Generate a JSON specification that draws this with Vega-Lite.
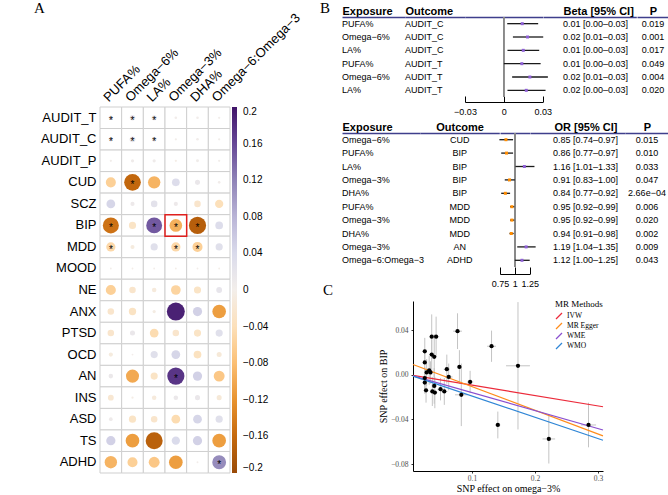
{
"$schema": "https://vega.github.io/schema/vega-lite/v6.json",
"background": "white",
"padding": {"left": 34, "top": 1, "right": 0, "bottom": 0},
"bounds": "full",
"spacing": 17,
"resolve": {"scale": {"color": "independent", "size": "independent"}, "legend": {"color": "independent"}},
"hconcat": [
 {"vconcat": [
   {"width": 130, "height": 89.5, "data": {"values": []}, "mark": "point",
    "title": {"text": "A", "dx": -66, "offset": 1}},
   {"width": 130, "height": 366,
    "data": {"values": [
{"row":"AUDIT_T","col":"PUFA%","r":0.012,"sig":1},{"row":"AUDIT_T","col":"Omega−6%","r":0.018,"sig":1},{"row":"AUDIT_T","col":"LA%","r":0.016,"sig":1},{"row":"AUDIT_T","col":"Omega−3%","r":0.004},{"row":"AUDIT_T","col":"DHA%","r":0.004},{"row":"AUDIT_T","col":"Omega−6:Omega−3","r":0.003},
{"row":"AUDIT_C","col":"PUFA%","r":0.012,"sig":1},{"row":"AUDIT_C","col":"Omega−6%","r":0.02,"sig":1},{"row":"AUDIT_C","col":"LA%","r":0.014,"sig":1},{"row":"AUDIT_C","col":"Omega−3%","r":0.003},{"row":"AUDIT_C","col":"DHA%","r":0.004},{"row":"AUDIT_C","col":"Omega−6:Omega−3","r":0.003},
{"row":"AUDIT_P","col":"PUFA%","r":0.003},{"row":"AUDIT_P","col":"Omega−6%","r":0.006},{"row":"AUDIT_P","col":"LA%","r":0.006},{"row":"AUDIT_P","col":"Omega−3%","r":-0.003},{"row":"AUDIT_P","col":"DHA%","r":0.005},{"row":"AUDIT_P","col":"Omega−6:Omega−3","r":0.003},
{"row":"CUD","col":"PUFA%","r":-0.06},{"row":"CUD","col":"Omega−6%","r":-0.163,"sig":1},{"row":"CUD","col":"LA%","r":-0.09},{"row":"CUD","col":"Omega−3%","r":0.035},{"row":"CUD","col":"DHA%","r":0.015},{"row":"CUD","col":"Omega−6:Omega−3","r":0.004},
{"row":"SCZ","col":"PUFA%","r":0.045},{"row":"SCZ","col":"Omega−6%","r":0.01},{"row":"SCZ","col":"LA%","r":0.025},{"row":"SCZ","col":"Omega−3%","r":0.01},{"row":"SCZ","col":"DHA%","r":-0.025},{"row":"SCZ","col":"Omega−6:Omega−3","r":-0.04},
{"row":"BIP","col":"PUFA%","r":-0.151,"sig":1},{"row":"BIP","col":"Omega−6%","r":-0.03},{"row":"BIP","col":"LA%","r":0.148,"sig":1},{"row":"BIP","col":"Omega−3%","r":-0.094,"sig":1},{"row":"BIP","col":"DHA%","r":-0.174,"sig":1},{"row":"BIP","col":"Omega−6:Omega−3","r":0.035},
{"row":"MDD","col":"PUFA%","r":-0.05,"sig":1},{"row":"MDD","col":"Omega−6%","r":-0.01},{"row":"MDD","col":"LA%","r":0.03},{"row":"MDD","col":"Omega−3%","r":-0.05,"sig":1},{"row":"MDD","col":"DHA%","r":-0.06,"sig":1},{"row":"MDD","col":"Omega−6:Omega−3","r":0.03},
{"row":"MOOD","col":"PUFA%","r":0.002},{"row":"MOOD","col":"Omega−6%","r":-0.002},{"row":"MOOD","col":"LA%","r":0.002},{"row":"MOOD","col":"Omega−3%","r":-0.002},{"row":"MOOD","col":"DHA%","r":0.002},{"row":"MOOD","col":"Omega−6:Omega−3","r":-0.002},
{"row":"NE","col":"PUFA%","r":-0.06},{"row":"NE","col":"Omega−6%","r":-0.025},{"row":"NE","col":"LA%","r":-0.012},{"row":"NE","col":"Omega−3%","r":-0.055},{"row":"NE","col":"DHA%","r":-0.03},{"row":"NE","col":"Omega−6:Omega−3","r":0.02},
{"row":"ANX","col":"PUFA%","r":-0.025},{"row":"ANX","col":"Omega−6%","r":-0.032},{"row":"ANX","col":"LA%","r":-0.006},{"row":"ANX","col":"Omega−3%","r":0.19},{"row":"ANX","col":"DHA%","r":0.05},{"row":"ANX","col":"Omega−6:Omega−3","r":-0.11},
{"row":"PTSD","col":"PUFA%","r":-0.025},{"row":"PTSD","col":"Omega−6%","r":0.015},{"row":"PTSD","col":"LA%","r":-0.045},{"row":"PTSD","col":"Omega−3%","r":-0.025},{"row":"PTSD","col":"DHA%","r":-0.03},{"row":"PTSD","col":"Omega−6:Omega−3","r":0.03},
{"row":"OCD","col":"PUFA%","r":-0.01},{"row":"OCD","col":"Omega−6%","r":0.002},{"row":"OCD","col":"LA%","r":0.03},{"row":"OCD","col":"Omega−3%","r":0.045},{"row":"OCD","col":"DHA%","r":-0.035},{"row":"OCD","col":"Omega−6:Omega−3","r":-0.015},
{"row":"AN","col":"PUFA%","r":0.012},{"row":"AN","col":"Omega−6%","r":-0.1},{"row":"AN","col":"LA%","r":-0.03},{"row":"AN","col":"Omega−3%","r":0.174,"sig":1},{"row":"AN","col":"DHA%","r":0.05},{"row":"AN","col":"Omega−6:Omega−3","r":-0.07},
{"row":"INS","col":"PUFA%","r":-0.02},{"row":"INS","col":"Omega−6%","r":-0.003},{"row":"INS","col":"LA%","r":-0.012},{"row":"INS","col":"Omega−3%","r":0.012},{"row":"INS","col":"DHA%","r":0.015},{"row":"INS","col":"Omega−6:Omega−3","r":-0.015},
{"row":"ASD","col":"PUFA%","r":0.008},{"row":"ASD","col":"Omega−6%","r":-0.03},{"row":"ASD","col":"LA%","r":-0.025},{"row":"ASD","col":"Omega−3%","r":-0.045},{"row":"ASD","col":"DHA%","r":0.045},{"row":"ASD","col":"Omega−6:Omega−3","r":0.03},
{"row":"TS","col":"PUFA%","r":0.05},{"row":"TS","col":"Omega−6%","r":-0.11},{"row":"TS","col":"LA%","r":-0.17},{"row":"TS","col":"Omega−3%","r":0.04},{"row":"TS","col":"DHA%","r":0.05},{"row":"TS","col":"Omega−6:Omega−3","r":-0.11},
{"row":"ADHD","col":"PUFA%","r":-0.09},{"row":"ADHD","col":"Omega−6%","r":-0.06},{"row":"ADHD","col":"LA%","r":-0.07},{"row":"ADHD","col":"Omega−3%","r":-0.11},{"row":"ADHD","col":"DHA%","r":0.002},{"row":"ADHD","col":"Omega−6:Omega−3","r":0.113,"sig":1}
    ]},
    "layer": [
     {"mark": {"type": "rect", "fill": "white", "stroke": "#cfcfcf", "strokeWidth": 1},
      "encoding": {
       "x": {"field": "col", "type": "nominal", "sort": ["PUFA%","Omega−6%","LA%","Omega−3%","DHA%","Omega−6:Omega−3"],
             "scale": {"type": "band", "paddingInner": 0, "paddingOuter": 0},
             "axis": {"orient": "top", "title": null, "domain": false, "ticks": false, "labelAngle": -45, "labelAlign": "left", "labelBaseline": "bottom", "labelPadding": 3, "labelFontSize": 13, "labelColor": "black", "labelFont": "Liberation Sans"}},
       "y": {"field": "row", "type": "nominal", "sort": ["AUDIT_T","AUDIT_C","AUDIT_P","CUD","SCZ","BIP","MDD","MOOD","NE","ANX","PTSD","OCD","AN","INS","ASD","TS","ADHD"],
             "scale": {"type": "band", "paddingInner": 0, "paddingOuter": 0},
             "axis": {"title": null, "domain": false, "ticks": false, "labelPadding": 4, "labelFontSize": 13, "labelColor": "black", "labelFont": "Liberation Sans"}}
      }},
     {"mark": {"type": "circle", "opacity": 1},
      "encoding": {
       "x": {"field": "col", "type": "nominal", "sort": ["PUFA%","Omega−6%","LA%","Omega−3%","DHA%","Omega−6:Omega−3"]},
       "y": {"field": "row", "type": "nominal", "sort": ["AUDIT_T","AUDIT_C","AUDIT_P","CUD","SCZ","BIP","MDD","MOOD","NE","ANX","PTSD","OCD","AN","INS","ASD","TS","ADHD"]},
       "size": {"field": "r", "type": "quantitative", "scale": {"domain": [-0.2, 0, 0.2], "range": [340, 0, 340]}, "legend": null},
       "color": {"field": "r", "type": "quantitative",
                 "scale": {"scheme": "purpleorange", "reverse": true, "domain": [-0.2, 0.2]},
                 "legend": {"title": null, "orient": "none", "legendX": 132, "legendY": 0, "padding": 0, "direction": "vertical", "gradientLength": 366, "gradientThickness": 5, "gradientStrokeWidth": 0,
                            "values": [0.2, 0.16, 0.12, 0.08, 0.04, 0, -0.04, -0.08, -0.12, -0.16, -0.2], "format": ".2~f",
                            "labelOverlap": false, "labelFontSize": 10, "labelOffset": 6, "labelColor": "black", "labelFont": "Liberation Sans", "labelBaseline": "middle"}}
      }},
     {"transform": [{"filter": "datum.sig == 1"}],
      "mark": {"type": "text", "text": "*", "fontSize": 10, "color": "black", "dy": 3, "font": "Liberation Sans"},
      "encoding": {
       "x": {"field": "col", "type": "nominal", "sort": ["PUFA%","Omega−6%","LA%","Omega−3%","DHA%","Omega−6:Omega−3"]},
       "y": {"field": "row", "type": "nominal", "sort": ["AUDIT_T","AUDIT_C","AUDIT_P","CUD","SCZ","BIP","MDD","MOOD","NE","ANX","PTSD","OCD","AN","INS","ASD","TS","ADHD"]}
      }},
     {"data": {"values": [{"row": "BIP", "col": "Omega−3%"}]},
      "mark": {"type": "rect", "fill": null, "fillOpacity": 0, "stroke": "#e0201e", "strokeWidth": 1.5},
      "encoding": {
       "x": {"field": "col", "type": "nominal", "sort": ["PUFA%","Omega−6%","LA%","Omega−3%","DHA%","Omega−6:Omega−3"]},
       "y": {"field": "row", "type": "nominal", "sort": ["AUDIT_T","AUDIT_C","AUDIT_P","CUD","SCZ","BIP","MDD","MOOD","NE","ANX","PTSD","OCD","AN","INS","ASD","TS","ADHD"]}
      }}
    ]}
  ], "spacing": 0, "bounds": "flush",
  "resolve": {"scale": {"color": "independent", "size": "independent"}, "legend": {"color": "independent"}}},
 {"vconcat": [
   {"vconcat": [
     {"data": {"values": [
       {"i":1,"exp":"PUFA%","out":"AUDIT_C","b":0.0142,"lo":0.0026,"hi":0.0265,"ci":"0.01 [0.00–0.03]","p":"0.019"},
       {"i":2,"exp":"Omega−6%","out":"AUDIT_C","b":0.0183,"lo":0.007,"hi":0.0304,"ci":"0.02 [0.01–0.03]","p":"0.001"},
       {"i":3,"exp":"LA%","out":"AUDIT_C","b":0.015,"lo":0.0028,"hi":0.0273,"ci":"0.01 [0.00–0.03]","p":"0.017"},
       {"i":4,"exp":"PUFA%","out":"AUDIT_T","b":0.0139,"lo":0.0,"hi":0.0284,"ci":"0.01 [0.00–0.03]","p":"0.049"},
       {"i":5,"exp":"Omega−6%","out":"AUDIT_T","b":0.0201,"lo":0.0064,"hi":0.034,"ci":"0.02 [0.01–0.03]","p":"0.004"},
       {"i":6,"exp":"LA%","out":"AUDIT_T","b":0.0173,"lo":0.0028,"hi":0.0322,"ci":"0.02 [0.00–0.03]","p":"0.020"}
      ]},
      "hconcat": [
       {"width": 63, "height": 80,
        "title": {"text": "B", "dx": -22, "offset": -11},
        "mark": {"type": "text", "align": "left", "fontSize": 9, "font": "Liberation Sans", "color": "black"},
        "encoding": {
         "x": {"datum": 0, "type": "quantitative", "scale": {"domain": [0, 1]},
               "axis": {"orient": "top", "title": "Exposure", "labels": false, "ticks": false, "grid": false, "domainColor": "#3f3f8c", "domainWidth": 1.5, "titleFontWeight": "bold", "titleFontSize": 11, "titleAnchor": "start", "titleAlign": "left", "titlePadding": 1, "titleColor": "black", "titleFont": "Liberation Sans"}},
         "y": {"field": "i", "type": "ordinal", "axis": null, "scale": {"type": "band", "paddingInner": 0, "paddingOuter": 0}},
         "text": {"field": "exp"}}},
       {"width": 60, "height": 80,
        "mark": {"type": "text", "align": "left", "fontSize": 9, "font": "Liberation Sans", "color": "black"},
        "encoding": {
         "x": {"datum": 0, "type": "quantitative", "scale": {"domain": [0, 1]},
               "axis": {"orient": "top", "title": "Outcome", "labels": false, "ticks": false, "grid": false, "domainColor": "#3f3f8c", "domainWidth": 1.5, "titleFontWeight": "bold", "titleFontSize": 11, "titleAnchor": "start", "titleAlign": "left", "titlePadding": 1, "titleColor": "black", "titleFont": "Liberation Sans"}},
         "y": {"field": "i", "type": "ordinal", "axis": null, "scale": {"type": "band", "paddingInner": 0, "paddingOuter": 0}},
         "text": {"field": "out"}}},
       {"width": 77.7, "height": 80,
        "layer": [
         {"mark": {"type": "rule", "color": "#8a8a8a", "strokeWidth": 1},
          "encoding": {"x": {"datum": 0, "type": "quantitative", "scale": {"domain": [-0.03, 0.03], "nice": false, "zero": false},
                             "axis": {"orient": "top", "title": null, "labels": false, "ticks": false, "grid": false, "domainColor": "#3f3f8c", "domainWidth": 1.5}}}},
         {"mark": {"type": "rule", "color": "#1a1a1a", "strokeWidth": 1.3},
          "encoding": {"x": {"field": "lo", "type": "quantitative",
                             "axis": {"orient": "bottom", "title": null, "values": [-0.03, 0, 0.03], "format": "~g", "labelFlush": false, "labelOverlap": false, "grid": false, "domainColor": "black", "tickColor": "black", "tickSize": -6, "offset": 5, "labelPadding": 11, "labelFontSize": 9, "labelColor": "black", "labelFont": "Liberation Sans"}},
                       "x2": {"field": "hi"},
                       "y": {"field": "i", "type": "ordinal", "axis": null, "scale": {"type": "band", "paddingInner": 0, "paddingOuter": 0}}}},
         {"mark": {"type": "square", "filled": true, "size": 9, "color": "#8e5fd6", "opacity": 1},
          "encoding": {"x": {"field": "b", "type": "quantitative", "axis": null},
                       "y": {"field": "i", "type": "ordinal"}}}
        ],
        "resolve": {"axis": {"x": "independent"}}},
       {"width": 93.3, "height": 80,
        "mark": {"type": "text", "align": "left", "dx": 20, "fontSize": 9, "font": "Liberation Sans", "color": "black"},
        "encoding": {
         "x": {"datum": 0, "type": "quantitative", "scale": {"domain": [0, 1]},
               "axis": {"orient": "top", "title": "Beta [95% CI]", "labels": false, "ticks": false, "grid": false, "domainColor": "#3f3f8c", "domainWidth": 1.5, "titleFontWeight": "bold", "titleFontSize": 11, "titleX": 20, "titleAlign": "left", "titlePadding": 1, "titleColor": "black", "titleFont": "Liberation Sans"}},
         "y": {"field": "i", "type": "ordinal", "axis": null, "scale": {"type": "band", "paddingInner": 0, "paddingOuter": 0}},
         "text": {"field": "ci"}}},
       {"width": 32, "height": 80,
        "mark": {"type": "text", "align": "center", "fontSize": 9, "font": "Liberation Sans", "color": "black"},
        "encoding": {
         "x": {"datum": 0.5, "type": "quantitative", "scale": {"domain": [0, 1]},
               "axis": {"orient": "top", "title": "P", "labels": false, "ticks": false, "grid": false, "domainColor": "#3f3f8c", "domainWidth": 1.5, "titleFontWeight": "bold", "titleFontSize": 11, "titlePadding": 1, "titleColor": "black", "titleFont": "Liberation Sans"}},
         "y": {"field": "i", "type": "ordinal", "axis": null, "scale": {"type": "band", "paddingInner": 0, "paddingOuter": 0}},
         "text": {"field": "p"}}}
      ], "spacing": 0, "bounds": "flush"},
     {"data": {"values": [
       {"i":1,"exp":"Omega−6%","out":"CUD","or":0.85,"lo":0.74,"hi":0.97,"ci":"0.85 [0.74–0.97]","p":"0.015"},
       {"i":2,"exp":"PUFA%","out":"BIP","or":0.86,"lo":0.77,"hi":0.97,"ci":"0.86 [0.77–0.97]","p":"0.010"},
       {"i":3,"exp":"LA%","out":"BIP","or":1.16,"lo":1.01,"hi":1.33,"ci":"1.16 [1.01–1.33]","p":"0.033"},
       {"i":4,"exp":"Omega−3%","out":"BIP","or":0.91,"lo":0.83,"hi":1.0,"ci":"0.91 [0.83–1.00]","p":"0.047"},
       {"i":5,"exp":"DHA%","out":"BIP","or":0.84,"lo":0.77,"hi":0.92,"ci":"0.84 [0.77–0.92]","p":"2.66e−04"},
       {"i":6,"exp":"PUFA%","out":"MDD","or":0.95,"lo":0.92,"hi":0.99,"ci":"0.95 [0.92–0.99]","p":"0.006"},
       {"i":7,"exp":"Omega−3%","out":"MDD","or":0.95,"lo":0.92,"hi":0.99,"ci":"0.95 [0.92–0.99]","p":"0.020"},
       {"i":8,"exp":"DHA%","out":"MDD","or":0.94,"lo":0.91,"hi":0.98,"ci":"0.94 [0.91–0.98]","p":"0.002"},
       {"i":9,"exp":"Omega−3%","out":"AN","or":1.19,"lo":1.04,"hi":1.35,"ci":"1.19 [1.04–1.35]","p":"0.009"},
       {"i":10,"exp":"Omega−6:Omega−3","out":"ADHD","or":1.12,"lo":1.0,"hi":1.25,"ci":"1.12 [1.00–1.25]","p":"0.043"}
      ]},
      "hconcat": [
       {"width": 78, "height": 134,
        "mark": {"type": "text", "align": "left", "fontSize": 9, "font": "Liberation Sans", "color": "black"},
        "encoding": {
         "x": {"datum": 0, "type": "quantitative", "scale": {"domain": [0, 1]},
               "axis": {"orient": "top", "title": "Exposure", "labels": false, "ticks": false, "grid": false, "domainColor": "#3f3f8c", "domainWidth": 1.5, "titleFontWeight": "bold", "titleFontSize": 11, "titleAnchor": "start", "titleAlign": "left", "titlePadding": 1, "titleColor": "black", "titleFont": "Liberation Sans"}},
         "y": {"field": "i", "type": "ordinal", "axis": null, "scale": {"type": "band", "paddingInner": 0, "paddingOuter": 0}},
         "text": {"field": "exp"}}},
       {"width": 79.3, "height": 134,
        "mark": {"type": "text", "align": "center", "fontSize": 9, "font": "Liberation Sans", "color": "black"},
        "encoding": {
         "x": {"datum": 0.5, "type": "quantitative", "scale": {"domain": [0, 1]},
               "axis": {"orient": "top", "title": "Outcome", "labels": false, "ticks": false, "grid": false, "domainColor": "#3f3f8c", "domainWidth": 1.5, "titleFontWeight": "bold", "titleFontSize": 11, "titlePadding": 1, "titleColor": "black", "titleFont": "Liberation Sans"}},
         "y": {"field": "i", "type": "ordinal", "axis": null, "scale": {"type": "band", "paddingInner": 0, "paddingOuter": 0}},
         "text": {"field": "out"}}},
       {"width": 29.7, "height": 134,
        "layer": [
         {"mark": {"type": "rule", "color": "#8a8a8a", "strokeWidth": 1},
          "encoding": {"x": {"datum": 1, "type": "quantitative", "scale": {"domain": [0.75, 1.25], "nice": false, "zero": false},
                             "axis": {"orient": "top", "title": null, "labels": false, "ticks": false, "grid": false, "domainColor": "#3f3f8c", "domainWidth": 1.5}}}},
         {"mark": {"type": "rule", "color": "#1a1a1a", "strokeWidth": 1.3},
          "encoding": {"x": {"field": "lo", "type": "quantitative",
                             "axis": {"orient": "bottom", "title": null, "values": [0.75, 1, 1.25], "format": ".3~g", "labelFlush": false, "labelOverlap": false, "grid": false, "domainColor": "black", "tickColor": "black", "tickSize": -7, "offset": 7, "labelPadding": 12, "labelFontSize": 9, "labelColor": "black", "labelFont": "Liberation Sans"}},
                       "x2": {"field": "hi"},
                       "y": {"field": "i", "type": "ordinal", "axis": null, "scale": {"type": "band", "paddingInner": 0, "paddingOuter": 0}}}},
         {"mark": {"type": "square", "filled": true, "size": 9, "opacity": 1},
          "encoding": {"x": {"field": "or", "type": "quantitative", "axis": null},
                       "y": {"field": "i", "type": "ordinal"},
                       "color": {"condition": {"test": "datum.or < 1", "value": "#ff8c00"}, "value": "#8e5fd6"}}}
        ],
        "resolve": {"axis": {"x": "independent"}}},
       {"width": 95, "height": 134,
        "mark": {"type": "text", "align": "left", "dx": 23, "fontSize": 9, "font": "Liberation Sans", "color": "black"},
        "encoding": {
         "x": {"datum": 0, "type": "quantitative", "scale": {"domain": [0, 1]},
               "axis": {"orient": "top", "title": "OR [95% CI]", "labels": false, "ticks": false, "grid": false, "domainColor": "#3f3f8c", "domainWidth": 1.5, "titleFontWeight": "bold", "titleFontSize": 11, "titleX": 24, "titleAlign": "left", "titlePadding": 1, "titleColor": "black", "titleFont": "Liberation Sans"}},
         "y": {"field": "i", "type": "ordinal", "axis": null, "scale": {"type": "band", "paddingInner": 0, "paddingOuter": 0}},
         "text": {"field": "ci"}}},
       {"width": 44, "height": 134,
        "mark": {"type": "text", "align": "center", "fontSize": 9, "font": "Liberation Sans", "color": "black"},
        "encoding": {
         "x": {"datum": 0.5, "type": "quantitative", "scale": {"domain": [0, 1]},
               "axis": {"orient": "top", "title": "P", "labels": false, "ticks": false, "grid": false, "domainColor": "#3f3f8c", "domainWidth": 1.5, "titleFontWeight": "bold", "titleFontSize": 11, "titlePadding": 1, "titleColor": "black", "titleFont": "Liberation Sans"}},
         "y": {"field": "i", "type": "ordinal", "axis": null, "scale": {"type": "band", "paddingInner": 0, "paddingOuter": 0}},
         "text": {"field": "p"}}}
      ], "spacing": 0, "bounds": "flush"}
    ], "spacing": 5, "bounds": "full"},
   {"hconcat": [
     {"width": 71, "height": 170, "data": {"values": []}, "mark": "point",
      "title": {"text": "C", "dx": -19, "offset": 3}},
     {"width": 190, "height": 170,
      "layer": [
       {"data": {"name": "snps"},
        "mark": {"type": "rule", "color": "#c4c4c4", "strokeWidth": 1},
        "encoding": {
         "x": {"field": "xlo", "type": "quantitative", "scale": {"domain": [0.0063, 0.308], "nice": false, "zero": false},
               "axis": {"title": "SNP effect on omega−3%", "values": [0.1, 0.2, 0.3], "format": ".1f", "grid": false, "domainColor": "black", "tickColor": "#333333", "tickSize": 2, "labelPadding": 1, "labelFont": "Liberation Serif", "labelFontSize": 7.5, "labelColor": "#4d4d4d", "titleFont": "Liberation Serif", "titleFontSize": 10, "titleFontWeight": "normal", "titleColor": "black", "titlePadding": 2}},
         "x2": {"field": "xhi"},
         "y": {"field": "y", "type": "quantitative", "scale": {"domain": [-0.0862, 0.066], "nice": false, "zero": false},
               "axis": {"title": "SNP effect on BIP", "values": [-0.08, -0.04, 0, 0.04], "format": ".2f", "grid": false, "domainColor": "black", "tickColor": "#333333", "tickSize": 2, "labelPadding": 3, "labelFont": "Liberation Serif", "labelFontSize": 7.5, "labelColor": "#4d4d4d", "titleFont": "Liberation Serif", "titleFontSize": 10, "titleFontWeight": "normal", "titleColor": "black", "titlePadding": 2}}}},
       {"data": {"name": "snps"},
        "mark": {"type": "rule", "color": "#c4c4c4", "strokeWidth": 1},
        "encoding": {
         "x": {"field": "x", "type": "quantitative"},
         "y": {"field": "ylo", "type": "quantitative"},
         "y2": {"field": "yhi"}}},
       {"data": {"values": [
         {"m":"IVW","x":0.0063,"y":-0.0006},{"m":"IVW","x":0.308,"y":-0.0287},
         {"m":"MR Egger","x":0.0063,"y":0.0092},{"m":"MR Egger","x":0.308,"y":-0.0548},
         {"m":"WME","x":0.0063,"y":-0.001},{"m":"WME","x":0.308,"y":-0.0495},
         {"m":"WMO","x":0.0063,"y":-0.0012},{"m":"WMO","x":0.308,"y":-0.0587}]},
        "mark": {"type": "line", "strokeWidth": 1.2},
        "encoding": {
         "x": {"field": "x", "type": "quantitative"},
         "y": {"field": "y", "type": "quantitative"},
         "color": {"field": "m", "type": "nominal",
                   "scale": {"domain": ["IVW", "MR Egger", "WME", "WMO"], "range": ["#ec2a3a", "#ff8c1a", "#8a4fcf", "#2f86d6"]},
                   "legend": {"title": "MR Methods", "orient": "none", "legendX": 142, "legendY": -1, "padding": 0,
                              "titleFont": "Liberation Serif", "titleFontSize": 9, "titleFontWeight": "normal", "titleColor": "black", "titlePadding": 3,
                              "labelFont": "Liberation Serif", "labelFontSize": 7.5, "labelColor": "black",
                              "symbolType": "M-1,1L1,-1", "symbolSize": 36, "symbolStrokeWidth": 1.2, "rowPadding": -4}}}},
       {"data": {"name": "snps"},
        "mark": {"type": "circle", "color": "black", "size": 18, "opacity": 1},
        "encoding": {
         "x": {"field": "x", "type": "quantitative"},
         "y": {"field": "y", "type": "quantitative"}}}
      ]}
    ], "spacing": 0, "bounds": "flush",
    "resolve": {"scale": {"color": "independent"}, "legend": {"color": "independent"}}}
  ], "spacing": -5, "bounds": "full",
  "resolve": {"scale": {"color": "independent"}, "legend": {"color": "independent"}}}
],
"datasets": {
 "snps": [
  {"x":0.025,"y":0.021,"xlo":0.022,"xhi":0.028,"ylo":0.009,"yhi":0.033},
  {"x":0.025,"y":0.011,"xlo":0.022,"xhi":0.028,"ylo":-0.001,"yhi":0.023},
  {"x":0.036,"y":0.018,"xlo":0.032,"xhi":0.040,"ylo":0.000,"yhi":0.036},
  {"x":0.040,"y":0.016,"xlo":0.036,"xhi":0.044,"ylo":-0.004,"yhi":0.036},
  {"x":0.028,"y":0.002,"xlo":0.025,"xhi":0.031,"ylo":-0.010,"yhi":0.014},
  {"x":0.032,"y":0.004,"xlo":0.028,"xhi":0.036,"ylo":-0.009,"yhi":0.017},
  {"x":0.034,"y":0.002,"xlo":0.030,"xhi":0.038,"ylo":-0.008,"yhi":0.012},
  {"x":0.025,"y":-0.003,"xlo":0.022,"xhi":0.028,"ylo":-0.013,"yhi":0.007},
  {"x":0.025,"y":-0.007,"xlo":0.022,"xhi":0.028,"ylo":-0.017,"yhi":0.003},
  {"x":0.027,"y":-0.014,"xlo":0.024,"xhi":0.030,"ylo":-0.025,"yhi":-0.003},
  {"x":0.037,"y":-0.015,"xlo":0.033,"xhi":0.041,"ylo":-0.028,"yhi":-0.002},
  {"x":0.041,"y":-0.016,"xlo":0.037,"xhi":0.045,"ylo":-0.030,"yhi":-0.002},
  {"x":0.040,"y":-0.010,"xlo":0.036,"xhi":0.044,"ylo":-0.026,"yhi":0.006},
  {"x":0.050,"y":-0.013,"xlo":0.045,"xhi":0.055,"ylo":-0.023,"yhi":-0.003},
  {"x":0.056,"y":-0.015,"xlo":0.051,"xhi":0.061,"ylo":-0.027,"yhi":-0.003},
  {"x":0.060,"y":0.005,"xlo":0.055,"xhi":0.065,"ylo":-0.008,"yhi":0.018},
  {"x":0.063,"y":-0.002,"xlo":0.057,"xhi":0.069,"ylo":-0.014,"yhi":0.010},
  {"x":0.080,"y":0.007,"xlo":0.076,"xhi":0.084,"ylo":-0.008,"yhi":0.022},
  {"x":0.083,"y":-0.018,"xlo":0.073,"xhi":0.093,"ylo":-0.046,"yhi":0.010},
  {"x":0.097,"y":-0.0065,"xlo":0.092,"xhi":0.102,"ylo":-0.0165,"yhi":0.0035},
  {"x":0.131,"y":0.0255,"xlo":0.124,"xhi":0.138,"ylo":0.0115,"yhi":0.0395},
  {"x":0.173,"y":0.008,"xlo":0.154,"xhi":0.192,"ylo":-0.049,"yhi":0.065},
  {"x":0.141,"y":-0.045,"xlo":0.137,"xhi":0.145,"ylo":-0.057,"yhi":-0.033},
  {"x":0.036,"y":0.034,"xlo":0.032,"xhi":0.040,"ylo":0.014,"yhi":0.054},
  {"x":0.043,"y":0.034,"xlo":0.038,"xhi":0.048,"ylo":0.016,"yhi":0.052},
  {"x":0.077,"y":0.039,"xlo":0.070,"xhi":0.084,"ylo":0.023,"yhi":0.055},
  {"x":0.222,"y":-0.0575,"xlo":0.212,"xhi":0.232,"ylo":-0.0795,"yhi":-0.0355},
  {"x":0.285,"y":-0.045,"xlo":0.273,"xhi":0.297,"ylo":-0.065,"yhi":-0.025}
 ]
},
"config": {
 "view": {"stroke": null},
 "font": "Liberation Sans",
 "title": {"font": "Liberation Serif", "fontSize": 15, "fontWeight": "normal", "anchor": "start", "color": "black"}
}
}
